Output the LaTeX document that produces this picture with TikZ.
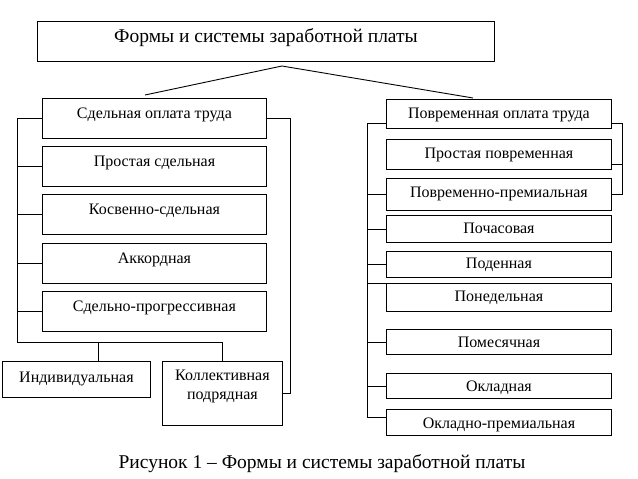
\documentclass[tikz,border=0pt]{standalone}
\usepackage{fontspec}
\setmainfont{Liberation Serif}
\usetikzlibrary{positioning, calc}

\begin{document}
\begin{tikzpicture}[
  x=1pt, y=-1pt, line width=0.9pt,
  every node/.style = {font=\fontsize{16}{19}\selectfont},
  box/.style = {draw, anchor=north west, inner ysep=0pt},
  lbox/.style = {box, minimum width=224pt, text height=20pt, text depth=20pt},
  rbox/.style = {box, minimum width=225pt},
  big/.style = {font=\fontsize{19.5}{23}\selectfont}
]
  \useasboundingbox (0,0) rectangle (638,479);

  % Title
  \node[box, big, minimum width=457pt, text height=21pt, text depth=19pt] (title) at (37,21) {Формы и системы заработной платы};
  \coordinate (apex) at (282,66);
  \coordinate (lfoot) at (145,95);
  \coordinate (rfoot) at (473,98);

  % Piece rate column
  \node[lbox] (sdel) at (42,98) {Сдельная оплата труда};
  \node[lbox] (prsd) at (42,146) {Простая сдельная};
  \node[lbox] (kosv) at (42,194) {Косвенно-сдельная};
  \node[lbox] (akkord) at (42,243) {Аккордная};
  \node[lbox] (progr) at (42,291) {Сдельно-прогрессивная};
  \node[box, minimum width=148pt, text height=21pt, text depth=15pt] (indiv) at (2,361) {Индивидуальная};
  \node[box, align=center, minimum width=120pt, text height=38pt, text depth=26pt] (koll) at (162,361) {Коллективная\\подрядная};
  \coordinate (lcorner) at (17,342);

  % Time rate column
  \node[rbox, text height=19pt, text depth=10pt] (povr) at (386,99) {Повременная оплата труда};
  \node[rbox, text height=19pt, text depth=11pt] (prpovr) at (386,139) {Простая повременная};
  \node[rbox, text height=19pt, text depth=13pt] (prem) at (386,178) {Повременно-премиальная};
  \node[rbox, text height=18pt, text depth=9pt] (chas) at (386,215) {Почасовая};
  \node[rbox, text height=17pt, text depth=9pt] (den) at (386,251) {Поденная};
  \node[rbox, text height=18pt, text depth=10pt] (ned) at (386,283) {Понедельная};
  \node[rbox, text height=18pt, text depth=7pt] (mes) at (386,329) {Помесячная};
  \node[rbox, text height=18pt, text depth=7pt] (oklad) at (386,373) {Окладная};
  \node[rbox, text height=19pt, text depth=7pt] (okprem) at (386,409) {Окладно-премиальная};
  \coordinate (rcorner) at (367,417);

  % Caption
  \node[big, anchor=base] (caption) at (322,468) {Рисунок 1 – Формы и системы заработной платы};

  % Links
  \draw (lfoot) -- (apex) -- (rfoot);

  \draw (sdel.west) -| (lcorner) -| (koll.north);
  \foreach \b in {prsd,kosv,akkord,progr}
    \draw (\b.west) -- (\b.west -| lcorner);
  \draw ([xshift=22pt]indiv.north) |- (lcorner);
  \draw (sdel.east) -- ++(24,0) |- (koll.east);

  \draw ([yshift=5pt]povr.south west) -| (rcorner) -- (rcorner -| okprem.west);
  \foreach \b in {prem,chas,den,mes,oklad}
    \draw (\b.west) -- (\b.west -| rcorner);
  \draw (ned.north west) -- (ned.north west -| rcorner);
  \draw ([yshift=5pt]povr.south east) -- ++(11,0) |- (prem.east);
  \draw ([yshift=5pt]prpovr.south east) -- ++(11,0);

\end{tikzpicture}
\end{document}
